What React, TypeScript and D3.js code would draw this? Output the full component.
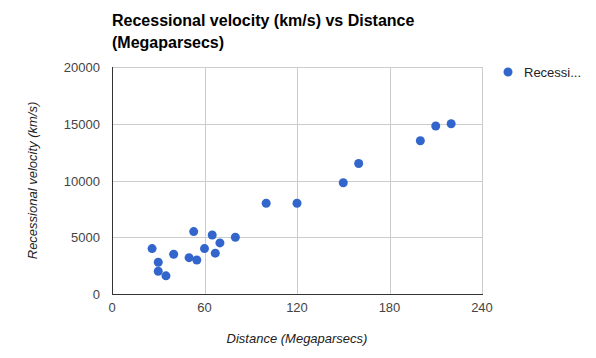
import React, { useEffect, useRef } from 'react';
import * as d3 from 'd3';

// distance in megaparsecs
const distances = [26, 30, 30, 35, 40, 50, 53, 55, 60, 65, 67, 70, 80, 100, 120, 150, 160, 200, 210, 220];
// recessional velocity in km/s
const velocities = [4000, 2800, 2000, 1600, 3500, 3200, 5500, 3000, 4000, 5200, 3600, 4500, 5000, 8000, 8000, 9800, 11500, 13500, 14800, 15000];
const xTicks = [0, 60, 120, 180, 240];
const yTicks = [0, 5000, 10000, 15000, 20000];

const W = 596;
const H = 358;

const App: React.FC = () => {
  const svgRef = useRef<SVGSVGElement>(null);

  useEffect(() => {
    if (!svgRef.current) return;
    const svg = d3.select(svgRef.current);
    svg.selectAll('*').remove();

    const font = 'Arial, "Liberation Sans", sans-serif';
    const left = 112, right = 482, top = 67, bottom = 294;

    const x = d3.scaleLinear().domain([0, 240]).range([left, right]);
    const y = d3.scaleLinear().domain([0, 20000]).range([bottom, top]);

    svg.append('rect').attr('width', W).attr('height', H).attr('fill', '#fff');

    // grid
    const grid = svg.append('g').attr('stroke', '#ccc').attr('stroke-width', 1);
    xTicks.forEach(t => {
      grid.append('line')
        .attr('x1', Math.round(x(t)) + 0.5).attr('x2', Math.round(x(t)) + 0.5)
        .attr('y1', top).attr('y2', bottom);
    });
    yTicks.forEach(t => {
      grid.append('line')
        .attr('x1', left).attr('x2', right)
        .attr('y1', Math.round(y(t)) + 0.5).attr('y2', Math.round(y(t)) + 0.5);
    });

    // axis baselines
    svg.append('line')
      .attr('x1', left + 0.5).attr('x2', left + 0.5)
      .attr('y1', top).attr('y2', bottom + 1)
      .attr('stroke', '#333');
    svg.append('line')
      .attr('x1', left).attr('x2', right + 1)
      .attr('y1', bottom + 0.5).attr('y2', bottom + 0.5)
      .attr('stroke', '#333');

    // tick labels
    svg.append('g').selectAll('text').data(xTicks).enter().append('text')
      .attr('x', d => x(d)).attr('y', 312)
      .attr('text-anchor', 'middle')
      .style('font', `13px ${font}`).attr('fill', '#444')
      .text(d => d);
    svg.append('g').selectAll('text').data(yTicks).enter().append('text')
      .attr('x', 100).attr('y', d => y(d) + 5)
      .attr('text-anchor', 'end')
      .style('font', `13px ${font}`).attr('fill', '#444')
      .text(d => d);

    // points
    svg.append('g').selectAll('circle').data(distances).enter().append('circle')
      .attr('cx', d => x(d))
      .attr('cy', (d, i) => y(velocities[i]))
      .attr('r', 4.5)
      .attr('fill', '#3366cc');

    // title
    const title = svg.append('text')
      .attr('x', left).attr('y', 26)
      .style('font', `bold 16px ${font}`).attr('fill', '#000');
    title.append('tspan').attr('x', left).attr('dy', 0).text('Recessional velocity (km/s) vs Distance');
    title.append('tspan').attr('x', left).attr('dy', 22).text('(Megaparsecs)');

    // axis titles
    svg.append('text')
      .attr('x', (left + right) / 2).attr('y', 343)
      .attr('text-anchor', 'middle')
      .style('font', `italic 13px ${font}`).attr('fill', '#222')
      .text('Distance (Megaparsecs)');
    svg.append('text')
      .attr('transform', `translate(37,${(top + bottom) / 2}) rotate(-90)`)
      .attr('text-anchor', 'middle')
      .style('font', `italic 13px ${font}`).attr('fill', '#222')
      .text('Recessional velocity (km/s)');

    // legend
    svg.append('circle').attr('cx', 508).attr('cy', 72).attr('r', 4.5).attr('fill', '#3366cc');
    svg.append('text')
      .attr('x', 524).attr('y', 76.5)
      .style('font', `13px ${font}`).attr('fill', '#222')
      .text('Recessi...');
  }, []);

  return <svg ref={svgRef} width={W} height={H} style={{ position: 'absolute', left: 0, top: 0 }} />;
};

export default App;
